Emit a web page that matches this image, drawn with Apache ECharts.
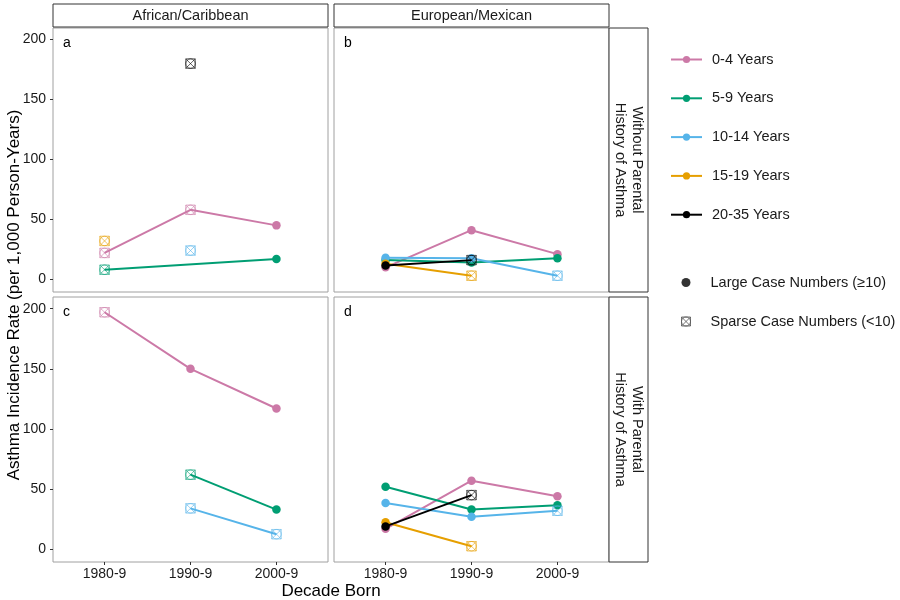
<!DOCTYPE html>
<html><head><meta charset="utf-8">
<script src="https://cdn.jsdelivr.net/npm/echarts@6/dist/echarts.min.js"></script>
<style>html,body{margin:0;padding:0;background:#fff}#c{width:900px;height:600px}</style>
</head><body><div id="c"></div>
<script>
// ---- data ----
const decades = ['1980-9', '1990-9', '2000-9'];
const ageGroups = ['0-4 Years', '5-9 Years', '10-14 Years', '15-19 Years', '20-35 Years'];
const yTicks = [0, 50, 100, 150, 200];
const ethnicities = ['African/Caribbean', 'European/Mexican'];
const histories = ['Without Parental\nHistory of Asthma', 'With Parental\nHistory of Asthma'];
const panelLetters = ['a', 'b', 'c', 'd'];

// rates per age group (rows) by decade (cols); null = no estimate
const ratesA = [[22, 58, 45], [8, null, 17], [null, 24, null], [32, null, null], [null, 180, null]];
const sparseA = [[1, 1, 0], [1, 0, 0], [0, 1, 0], [1, 0, 0], [0, 1, 0]];
const ratesB = [[10, 41, 21], [16, 14, 17.5], [18, 17.5, 3], [13, 3, null], [11.5, 16, null]];
const sparseB = [[0, 0, 0], [0, 0, 0], [0, 0, 1], [0, 1, 0], [0, 1, 0]];
const ratesC = [[197, 150, 117], [null, 62, 33], [null, 34, 12.5], [null, null, null], [null, null, null]];
const sparseC = [[1, 0, 0], [0, 1, 0], [0, 1, 1], [0, 0, 0], [0, 0, 0]];
const ratesD = [[17, 57, 44], [52, 33, 36.5], [38.5, 27, 32], [22.5, 2.5, null], [19, 45, null]];
const sparseD = [[0, 0, 0], [0, 0, 0], [0, 0, 1], [0, 1, 0], [0, 1, 0]];

const legendCase = ['Large Case Numbers (≥10)', 'Sparse Case Numbers (<10)'];

// ---- styling ----
const colors = ['#CC79A7', '#009E73', '#56B4E9', '#E69F00', '#000000'];
const FONT = 'Liberation Sans, Arial, sans-serif';
const SPARSE = 'path://M0,0L10,0L10,10L0,10Z M0,0L10,10 M10,0L0,10 M5,0A5,5,0,1,1,5,10A5,5,0,1,1,5,0Z';
const grids = [
  { left: 53, top: 28, width: 275, height: 264 },
  { left: 334, top: 28, width: 275, height: 264 },
  { left: 53, top: 297, width: 275, height: 265 },
  { left: 334, top: 297, width: 275, height: 265 }
];
const panels = [
  { rates: ratesA, sparse: sparseA },
  { rates: ratesB, sparse: sparseB },
  { rates: ratesC, sparse: sparseC },
  { rates: ratesD, sparse: sparseD }
];

const series = [];
panels.forEach((p, pi) => {
  ageGroups.forEach((g, gi) => {
    const data = [];
    p.rates[gi].forEach((v, di) => {
      if (v === null) return;
      if (p.sparse[gi][di] === 1) {
        data.push({
          value: [di + 1, v], symbol: SPARSE, symbolSize: 9.5,
          itemStyle: { color: 'rgba(255,255,255,0)', borderColor: colors[gi], borderWidth: 1, opacity: 0.6 }
        });
      } else {
        data.push({ value: [di + 1, v] });
      }
    });
    if (!data.length) return;
    series.push({
      type: 'line', name: g, xAxisIndex: pi, yAxisIndex: pi, data,
      symbol: 'circle', symbolSize: 8.5, showAllSymbol: true,
      lineStyle: { width: 2, color: colors[gi] },
      itemStyle: { color: colors[gi] },
      z: 2 + gi, animation: false, silent: true
    });
  });
});
// legend-only series
series.push({ type: 'scatter', name: legendCase[0], xAxisIndex: 0, yAxisIndex: 0, data: [], symbol: 'circle', itemStyle: { color: '#000' } });
series.push({ type: 'scatter', name: legendCase[1], xAxisIndex: 0, yAxisIndex: 0, data: [], symbol: SPARSE, itemStyle: { color: 'rgba(255,255,255,0)', borderColor: '#555', borderWidth: 1 } });

const xAxis = grids.map((g, i) => ({
  type: 'value', gridIndex: i, min: 0.4, max: 3.6, position: 'bottom',
  axisLine: { show: false, onZero: false }, splitLine: { show: false },
  axisTick: { show: i >= 2, customValues: [1, 2, 3], length: 3, lineStyle: { color: '#333' } },
  axisLabel: { show: i >= 2, customValues: [1, 2, 3], formatter: v => decades[Math.round(v) - 1], fontSize: 14, color: '#1a1a1a', fontFamily: FONT, margin: 5 }
}));
const yAxis = grids.map((g, i) => ({
  type: 'value', gridIndex: i, min: -10.6, max: 209.7, position: 'left',
  axisLine: { show: false, onZero: false }, splitLine: { show: false },
  axisTick: { show: i % 2 === 0, customValues: yTicks, length: 3, lineStyle: { color: '#333' } },
  axisLabel: { show: i % 2 === 0, customValues: yTicks, fontSize: 14, color: '#1a1a1a', fontFamily: FONT, margin: 7 }
}));

const graphic = [];
// top strips
ethnicities.forEach((e, i) => {
  const g = grids[i];
  graphic.push({ type: 'rect', shape: { x: g.left, y: 4, width: g.width, height: 23 }, style: { fill: '#fff', stroke: '#333', lineWidth: 1 }, z: 10 });
  graphic.push({ type: 'text', x: g.left + g.width / 2, y: 16, style: { text: e, font: '14.5px ' + FONT, fill: '#1a1a1a', align: 'center', verticalAlign: 'middle' }, z: 11 });
});
// right strips
histories.forEach((h, i) => {
  const g = grids[1 + 2 * i];
  graphic.push({ type: 'rect', shape: { x: g.left + g.width, y: g.top, width: 39, height: g.height }, style: { fill: '#fff', stroke: '#333', lineWidth: 1 }, z: 10 });
  graphic.push({ type: 'text', x: g.left + g.width + 19.5, y: g.top + g.height / 2, rotation: -Math.PI / 2, style: { text: h, font: '14.5px ' + FONT, fill: '#1a1a1a', align: 'center', verticalAlign: 'middle', lineHeight: 17 }, z: 11 });
});
// panel letters
panelLetters.forEach((l, i) => {
  const g = grids[i];
  graphic.push({ type: 'text', x: g.left + 10, y: g.top + 15, style: { text: l, font: '14px ' + FONT, fill: '#000', align: 'left', verticalAlign: 'middle' }, z: 11 });
});
// axis titles
graphic.push({ type: 'text', x: 331, y: 591, style: { text: 'Decade Born', font: '17px ' + FONT, fill: '#000', align: 'center', verticalAlign: 'middle' } });
graphic.push({ type: 'text', x: 14, y: 295, rotation: Math.PI / 2, style: { text: 'Asthma Incidence Rate (per 1,000 Person-Years)', font: '17px ' + FONT, fill: '#000', align: 'center', verticalAlign: 'middle' } });

const chart = echarts.init(document.getElementById('c'), null, { renderer: 'canvas' });
chart.setOption({
  animation: false,
  backgroundColor: '#fff',
  grid: grids.map(g => Object.assign({ show: true, borderColor: '#a0a0a0', borderWidth: 1, backgroundColor: '#fff' }, g)),
  xAxis, yAxis, series, graphic,
  legend: [
    {
      data: ageGroups, orient: 'vertical', left: 665, top: 47, itemWidth: 31, itemHeight: 9, itemGap: 23.8,
      selectedMode: false, textStyle: { fontSize: 14.5, color: '#1a1a1a', fontFamily: FONT, padding: [0, 0, 0, 5] }
    },
    {
      data: [
        { name: legendCase[0], icon: 'circle', itemStyle: { color: '#000' } },
        { name: legendCase[1], icon: SPARSE, itemStyle: { color: 'rgba(255,255,255,0)', borderColor: '#555', borderWidth: 1 } }
      ],
      orient: 'vertical', left: 676, top: 270, itemWidth: 31, itemHeight: 9, itemGap: 24,
      selectedMode: false, textStyle: { fontSize: 14.5, color: '#1a1a1a', fontFamily: FONT, padding: [0, 0, 0, 4] }
    }
  ]
});
</script>
</body></html>
